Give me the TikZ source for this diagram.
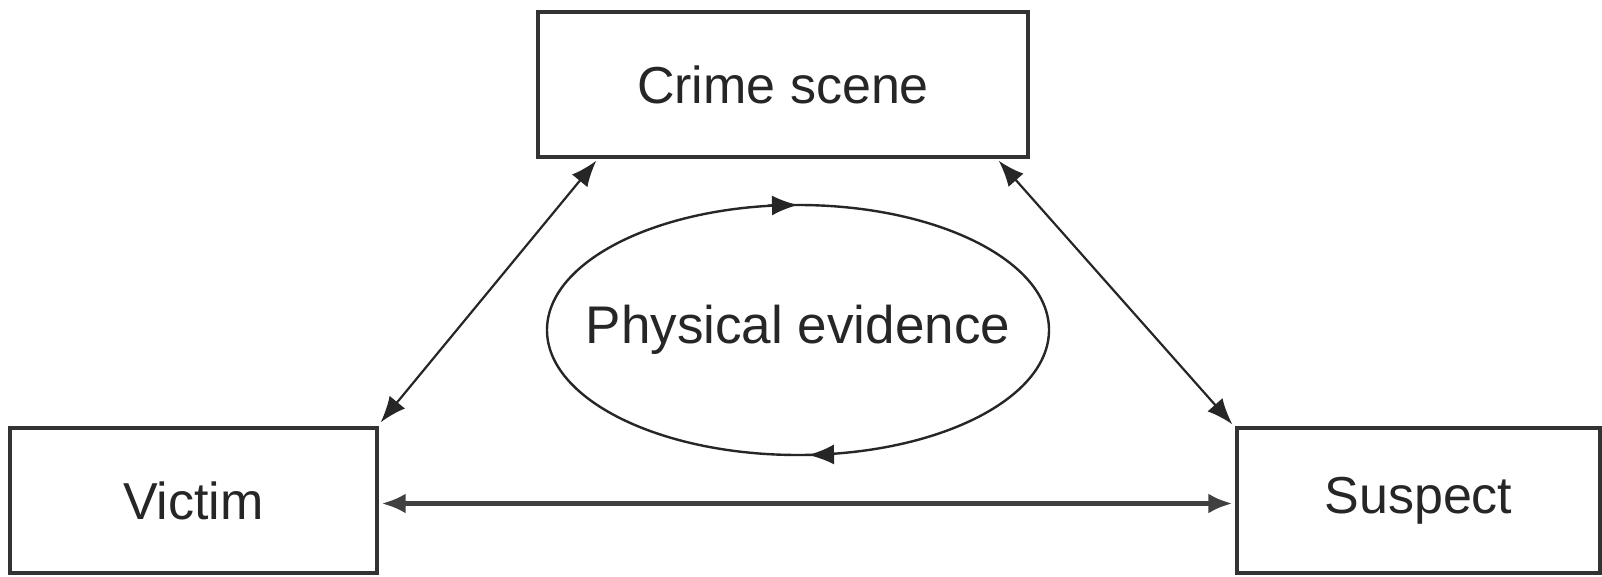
\documentclass[tikz,border=0pt]{standalone}
\usepackage{fontspec}
\setmainfont{Liberation Sans}
\usetikzlibrary{arrows.meta,shapes.geometric,calc}
\begin{document}
\begin{tikzpicture}[x=0.5pt,y=-0.5pt,
  boxnode/.style={draw=black!80,line width=1.7pt,rectangle,minimum height=72.5pt,
    font=\fontsize{26}{30}\selectfont,text=black!85,inner sep=0pt},
  evtext/.style={font=\fontsize{26.5}{30}\selectfont,text=black!85,inner sep=0pt},
  tip/.style={Latex[length=13pt,width=10pt]},
  link/.style={draw=black!85,line width=1.1pt,{Latex[length=13pt,width=10pt]}-{Latex[length=13pt,width=10pt]}},
  hlink/.style={draw=black!75,line width=2.2pt,{Latex[length=12pt,width=10pt]}-{Latex[length=12pt,width=10pt]}},
  cyc/.style={draw=black!85,line width=1.2pt,-{Latex[length=13pt,width=10pt]}}]
\useasboundingbox[fill=white] (0,0) rectangle (1602,577);
\node[boxnode,minimum width=245pt] (crime) at (783,84.5) {Crime scene};
\node[boxnode,minimum width=183.5pt] (victim) at (193.5,500.5) {Victim};
\node[boxnode,minimum width=181.5pt] (suspect) at (1418.5,500.5) {Suspect};
\node[evtext] (ev) at (798,330) {Physical evidence};
\draw[draw=black!85,line width=1.2pt] (ev.center) ellipse [x radius=125.5pt, y radius=62.5pt];
\coordinate (evn) at ($(ev.center)+(0,-125)$);
\coordinate (evs) at ($(ev.center)+(0,125)$);
\draw[link] ($(crime.south west)+(60,2)$) -- ($(victim.north east)+(2,-4)$);
\draw[link] ($(crime.south east)+(-31,2)$) -- ($(suspect.north west)+(-3,-2)$);
\draw[hlink] ($(victim.east)+(3,3)$) -- ($(suspect.west)+(-3,3)$);
\draw[cyc] ($(evn)+(-30,0.5)$) -- (evn);
\draw[cyc] ($(evs)+(36,-0.5)$) -- ($(evs)+(10,0)$);
\end{tikzpicture}
\end{document}
